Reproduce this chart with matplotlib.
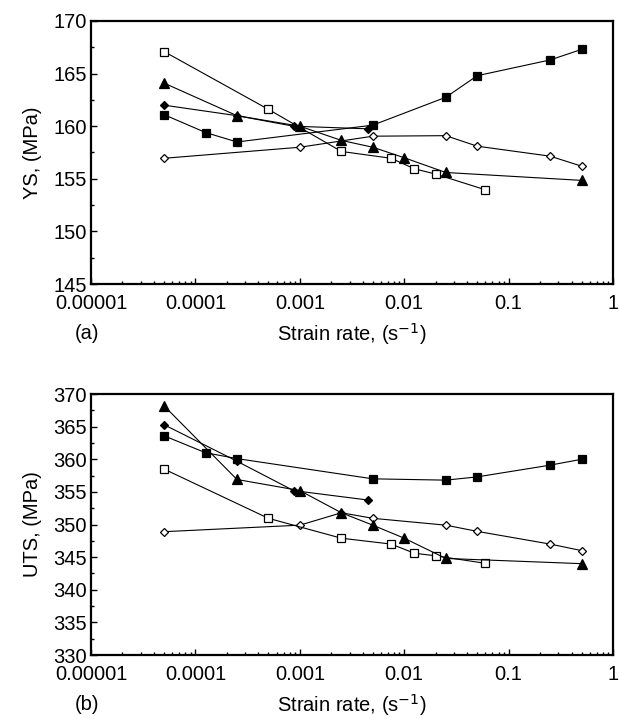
import numpy as np
import matplotlib
matplotlib.use("Agg")
import matplotlib.pyplot as plt
from matplotlib.ticker import LogLocator, FixedLocator, MultipleLocator, FixedFormatter

plt.rcParams['font.family'] = ['Liberation Sans', 'DejaVu Sans']

# ---- (a) yield strength ----
ys_sq_filled_x = [5e-5, 1.25e-4, 2.5e-4, 5e-3, 0.025, 0.05, 0.25, 0.5]
ys_sq_filled_y = [161.1, 159.4, 158.5, 160.1, 162.75, 164.8, 166.3, 167.3]

ys_sq_open_x = [5e-5, 5e-4, 2.5e-3, 7.5e-3, 0.0125, 0.02, 0.06]
ys_sq_open_y = [167.1, 161.6, 157.6, 156.95, 155.95, 155.45, 153.95]

ys_tri_x = [5e-5, 2.5e-4, 1e-3, 2.5e-3, 5e-3, 1e-2, 0.025, 0.5]
ys_tri_y = [164.1, 161.0, 160.0, 158.65, 158.0, 157.0, 155.6, 154.85]

ys_dia_filled_x = [5e-5, 2.5e-4, 8.7e-4, 4.5e-3]
ys_dia_filled_y = [162.0, 161.0, 160.0, 159.75]

ys_dia_open_x = [5e-5, 1e-3, 5e-3, 0.025, 0.05, 0.25, 0.5]
ys_dia_open_y = [156.95, 158.0, 159.05, 159.1, 158.1, 157.15, 156.2]

# ---- (b) ultimate tensile strength ----
uts_sq_filled_x = [5e-5, 1.25e-4, 2.5e-4, 5e-3, 0.025, 0.05, 0.25, 0.5]
uts_sq_filled_y = [363.6, 361.0, 360.1, 357.0, 356.8, 357.3, 359.1, 360.0]

uts_sq_open_x = [5e-5, 5e-4, 2.5e-3, 7.5e-3, 0.0125, 0.02, 0.06]
uts_sq_open_y = [358.5, 350.95, 347.9, 347.0, 345.6, 345.2, 344.05]

uts_tri_x = [5e-5, 2.5e-4, 1e-3, 2.5e-3, 5e-3, 1e-2, 0.025, 0.5]
uts_tri_y = [368.2, 356.9, 355.2, 351.8, 349.9, 347.9, 344.8, 344.0]

uts_dia_filled_x = [5e-5, 2.5e-4, 8.7e-4, 4.5e-3]
uts_dia_filled_y = [365.3, 359.7, 355.2, 353.75]

uts_dia_open_x = [5e-5, 1e-3, 2.5e-3, 5e-3, 0.025, 0.05, 0.25, 0.5]
uts_dia_open_y = [348.9, 349.9, 351.8, 350.95, 349.9, 348.95, 347.0, 346.0]

x_ticks = [1e-5, 1e-4, 1e-3, 1e-2, 1e-1, 1]
x_labels = ["0.00001", "0.0001", "0.001", "0.01", "0.1", "1"]


def draw(ax, series, ylim, ylabel, panel):
    for x, y, m, fc, ms in series:
        ax.plot(x, y, color="black", lw=0.8, marker=m, ms=ms,
                mfc=fc, mec="black", mew=0.9, zorder=3)
    ax.set_xscale("log")
    ax.set_xlim(1e-5, 1)
    ax.set_ylim(*ylim)
    ax.xaxis.set_major_locator(FixedLocator(x_ticks))
    ax.xaxis.set_major_formatter(FixedFormatter(x_labels))
    ax.xaxis.set_minor_locator(LogLocator(base=10, subs=np.arange(2, 10)))
    ax.yaxis.set_major_locator(MultipleLocator(5))
    ax.yaxis.set_minor_locator(MultipleLocator(2.5))
    ax.tick_params(which="both", direction="in", top=False, right=False,
                   labelsize=14.5)
    ax.tick_params(which="major", length=4, width=1)
    ax.tick_params(which="minor", length=2.5, width=1)
    ax.tick_params(axis="x", pad=7)
    ax.tick_params(axis="y", pad=3)
    for s in ax.spines.values():
        s.set_linewidth(1.6)
    ax.set_ylabel(ylabel, fontsize=14.5, labelpad=8)
    ax.set_xlabel(r"Strain rate, (s$^{-1}$)", fontsize=14.5, labelpad=6)
    ax.text(-0.031, -0.19, panel, transform=ax.transAxes, fontsize=14.5,
            ha="left", va="center")


fig = plt.figure(figsize=(6.2, 7.19), dpi=100)
ax1 = fig.add_axes([0.1468, 0.605, 0.842, 0.3658])
ax2 = fig.add_axes([0.1468, 0.089, 0.842, 0.363])

draw(ax1, [
    (ys_dia_open_x, ys_dia_open_y, "D", "white", 4.5),
    (ys_sq_open_x, ys_sq_open_y, "s", "white", 6),
    (ys_sq_filled_x, ys_sq_filled_y, "s", "black", 6),
    (ys_dia_filled_x, ys_dia_filled_y, "D", "black", 4.5),
    (ys_tri_x, ys_tri_y, "^", "black", 6.5),
], (145, 170), "YS, (MPa)", "(a)")

draw(ax2, [
    (uts_dia_open_x, uts_dia_open_y, "D", "white", 4.5),
    (uts_sq_open_x, uts_sq_open_y, "s", "white", 6),
    (uts_sq_filled_x, uts_sq_filled_y, "s", "black", 6),
    (uts_dia_filled_x, uts_dia_filled_y, "D", "black", 4.5),
    (uts_tri_x, uts_tri_y, "^", "black", 6.5),
], (330, 370), "UTS, (MPa)", "(b)")

fig.savefig("out.png", dpi=100)
